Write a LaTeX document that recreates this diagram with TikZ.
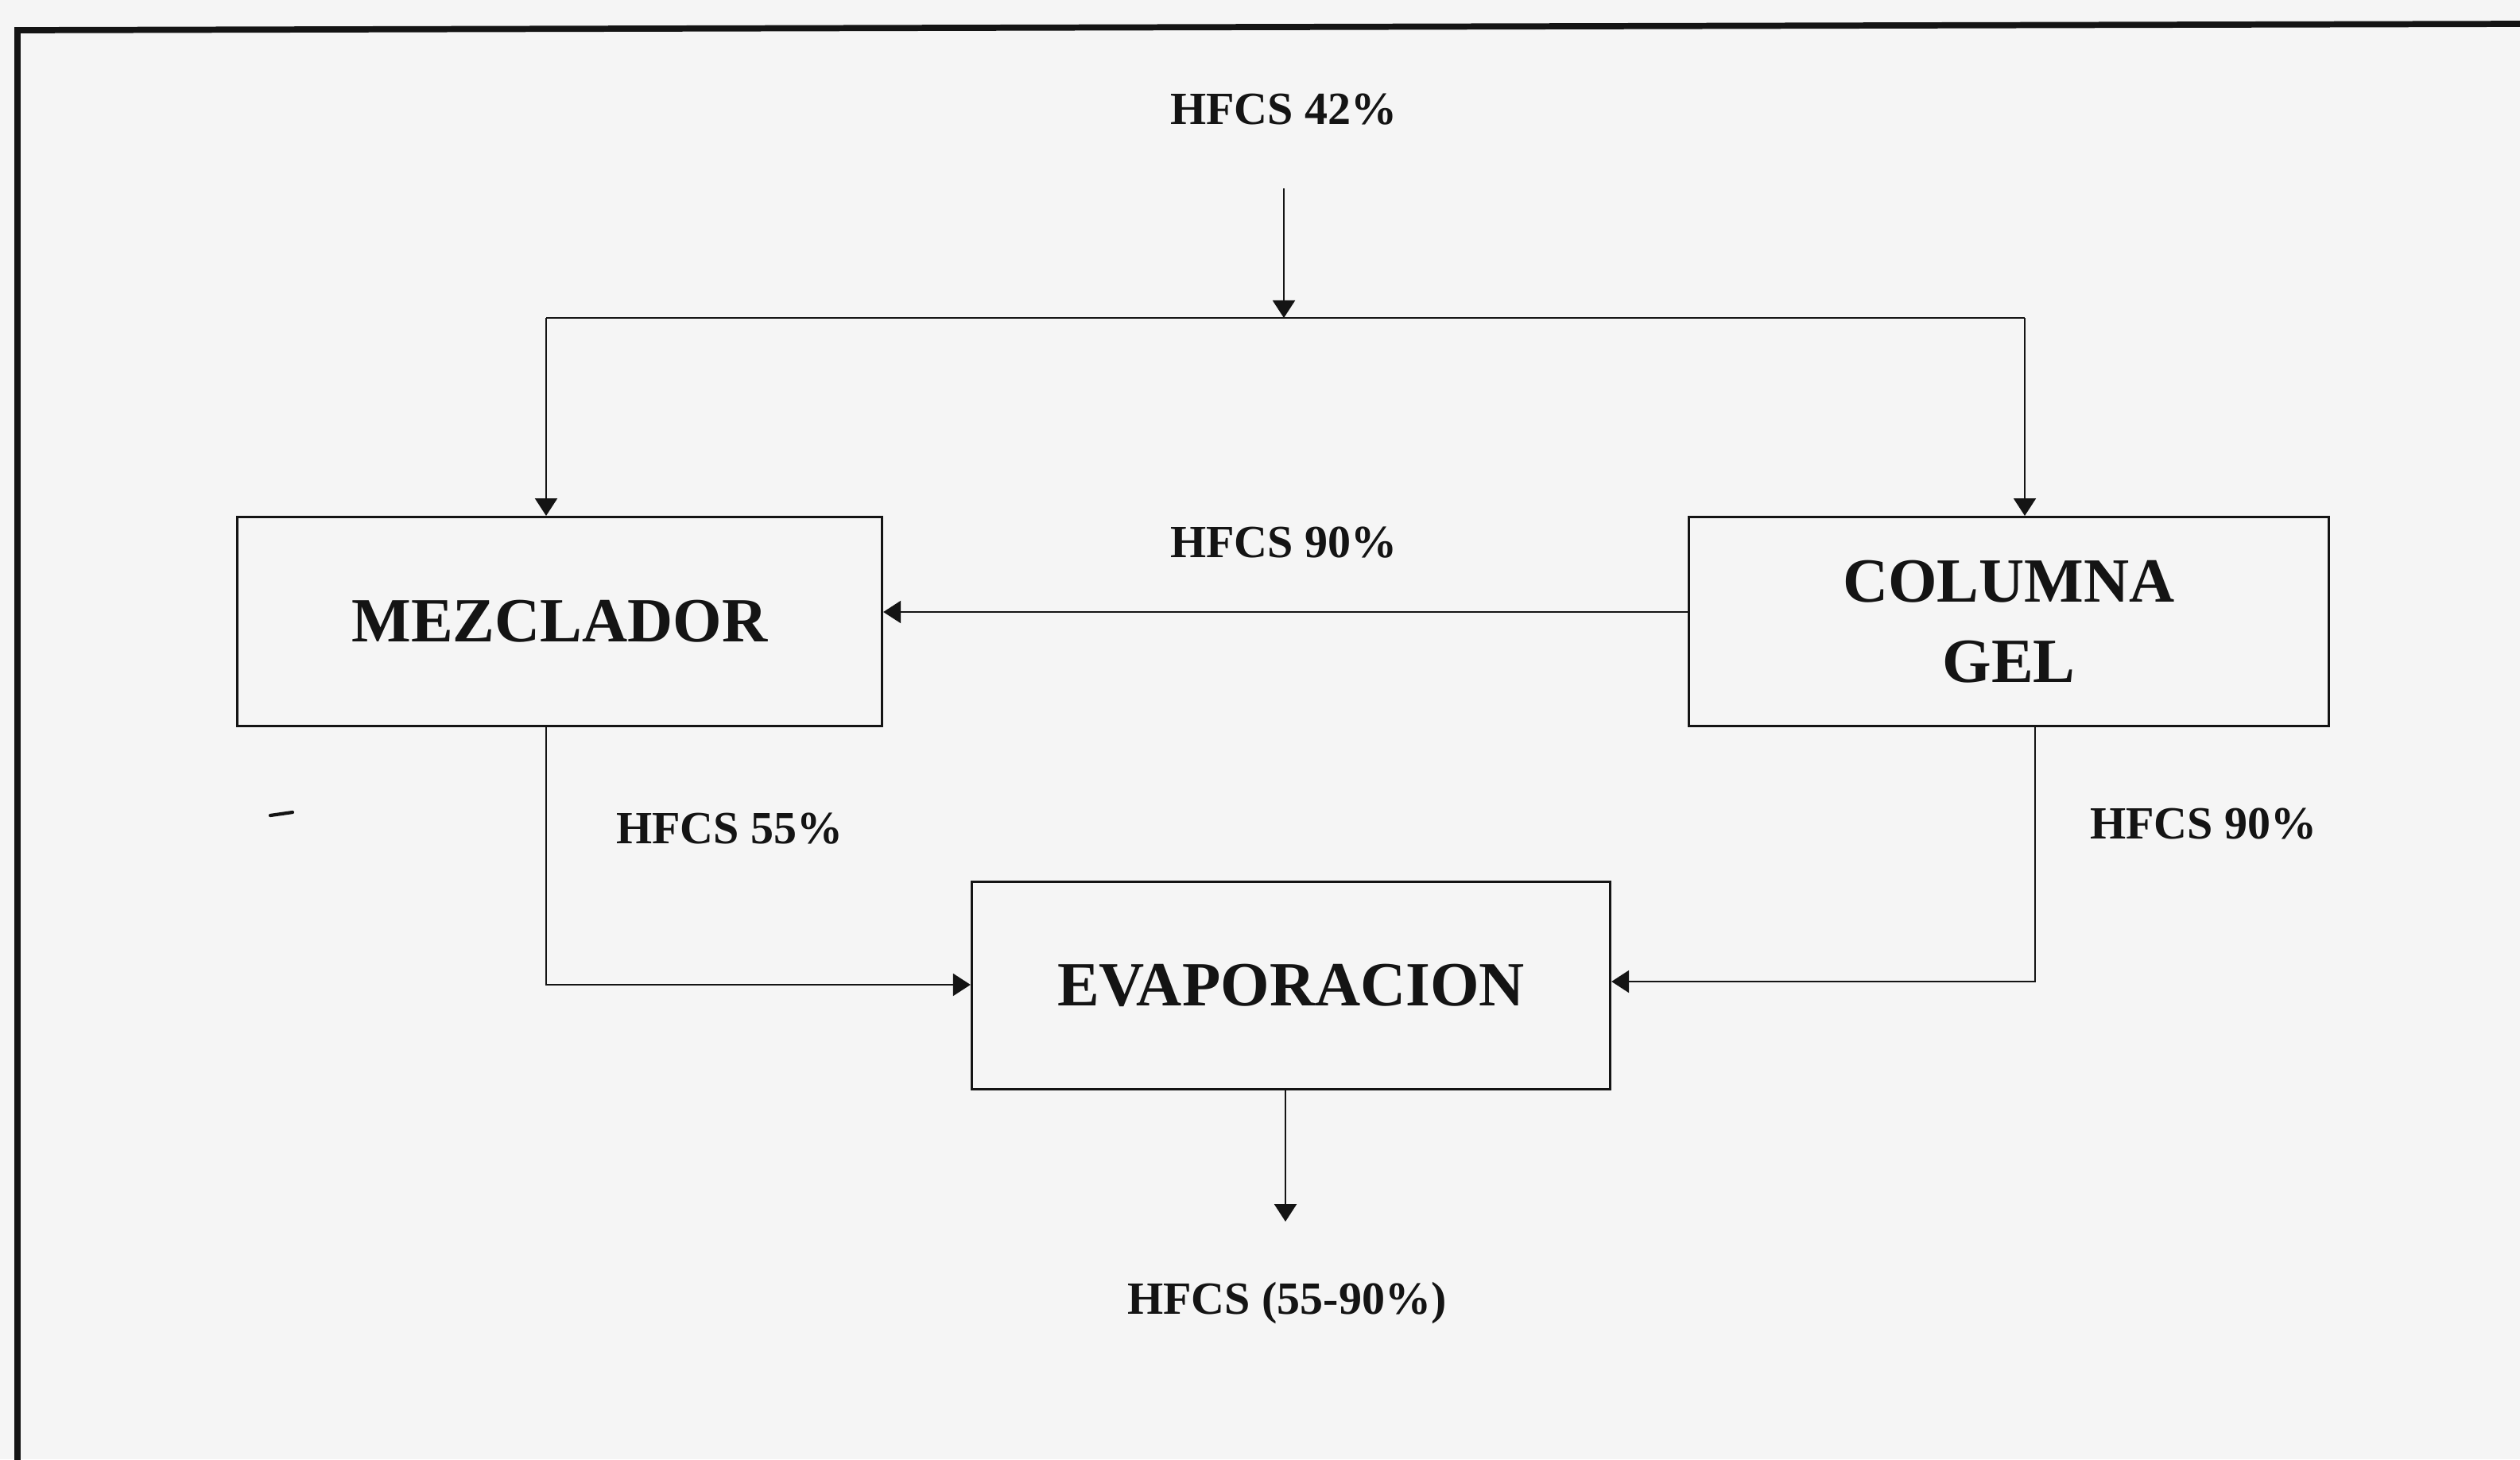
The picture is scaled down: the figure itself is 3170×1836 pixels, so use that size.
\documentclass[tikz,border=0pt]{standalone}
\usepackage{fontspec}
\setmainfont{Liberation Serif}
\usetikzlibrary{arrows.meta}
\definecolor{bg}{HTML}{F5F5F5}
\definecolor{ink}{HTML}{141414}
\tikzset{
  procbox/.style={draw=ink, line width=0.8pt, rectangle, align=center,
    font=\fontsize{22.5}{28.7}\selectfont\bfseries, text=ink, inner sep=0pt},
  flowlabel/.style={font=\fontsize{16.5}{20}\selectfont\bfseries, text=ink, inner sep=0pt},
  conn/.style={draw=ink, line width=0.6pt},
  arr/.style={conn, -{Triangle[length=0.22cm, width=0.28cm]}}
}
\begin{document}
\begin{tikzpicture}[x=0.01cm, y=-0.01cm]
\useasboundingbox (0,0) rectangle (3170,1836);
\fill[bg] (0,0) rectangle (3170,1836);
% outer frame (left and top edges)
\draw[ink, line width=2.2pt] (22,1850) -- (22,38) -- (3180,30);
% stray mark
\draw[ink, line width=1.2pt, line cap=round] (340,1026) -- (368,1022);

% process boxes
\node[procbox, minimum width=8.11cm, minimum height=2.63cm] (mez) at (704,782) {MEZCLADOR};
\node[procbox, minimum width=8.04cm, minimum height=2.63cm] (col) at (2527,782) {COLUMNA\\GEL};
\node[procbox, minimum width=8.03cm, minimum height=2.61cm] (eva) at (1624,1240) {EVAPORACION};

% labels
\node[flowlabel] (l42) at (1615,138) {HFCS 42\%};
\node[flowlabel] (l90a) at (1615,683) {HFCS 90\%};
\node[flowlabel] (l55) at (918,1043) {HFCS 55\%};
\node[flowlabel] (l90b) at (2772,1037) {HFCS 90\%};
\node[flowlabel] (lout) at (1619,1640) {HFCS (55-90\%)};

% feed and split
\coordinate (feed) at (1615,237);
\coordinate (split) at (1615,400);
\coordinate (sl) at (687,400);
\coordinate (sr) at (2547,400);
\draw[arr] (feed) -- (split);
\draw[conn] (sl) -- (sr);
\draw[arr] (sl) -- (sl |- mez.north);
\draw[arr] (sr) -- (sr |- col.north);

% recycle from column to mixer
\draw[arr] (col.west |- 0,770) -- (mez.east |- 0,770);

% to evaporation
\coordinate (m1) at (687,1239);
\draw[arr] (m1 |- mez.south) -- (m1) -- (eva.west |- m1);
\coordinate (c1) at (2560,1235);
\draw[arr] (c1 |- col.south) -- (c1) -- (eva.east |- c1);

% product
\coordinate (prod) at (1617,1537);
\draw[arr] (prod |- eva.south) -- (prod);
\end{tikzpicture}
\end{document}
